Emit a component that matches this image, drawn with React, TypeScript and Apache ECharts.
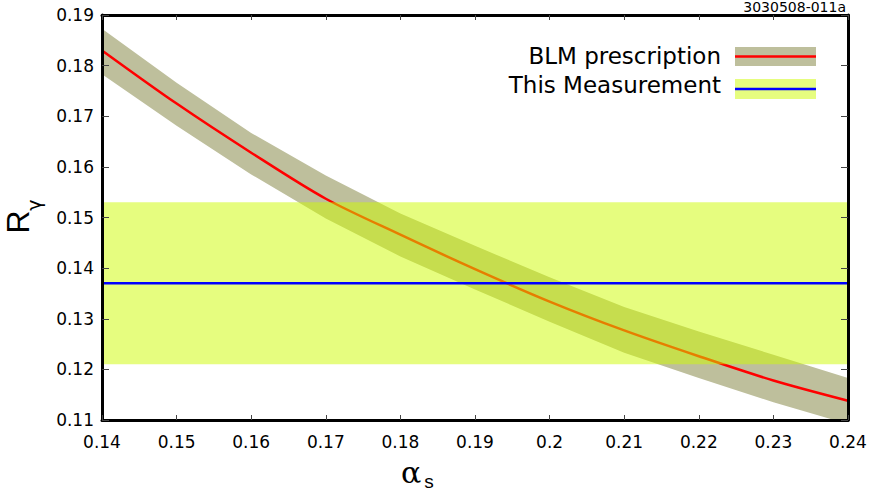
import React, { useEffect, useRef } from "react";
import * as echarts from "echarts";

const alphaS = [0.14, 0.15, 0.16, 0.17, 0.18, 0.19, 0.2, 0.21, 0.22, 0.23, 0.24];
const blmCentral = [0.183, 0.1725, 0.1628, 0.1537, 0.1466, 0.1398, 0.1334, 0.1277, 0.1226, 0.1178, 0.1138];
const blmUpper = [0.1873, 0.1766, 0.1667, 0.1583, 0.1508, 0.1444, 0.1382, 0.1323, 0.1275, 0.1229, 0.1183];
const blmLower = [0.1783, 0.1681, 0.1585, 0.1498, 0.1423, 0.1358, 0.1294, 0.1233, 0.1183, 0.1135, 0.1092];
const measValue = 0.137;
const measLow = 0.121;
const measHigh = 0.153;
const xRange = [0.14, 0.24];
const yRange = [0.11, 0.19];
const legendLabels = ["BLM prescription", "This Measurement"];
const tagText = "3030508-011a";

const BROWN = "#bebf9c";
const YELLOW = "rgba(205,251,0,0.5)";

function bandSeries(name: string, xs: number[], up: number[], lo: number[], fill: string, z: number) {
  return {
    type: "custom",
    name,
    z,
    silent: true,
    data: [[xs[0], lo[0]]],
    encode: { x: 0, y: 1 },
    renderItem: (params: any, api: any) => {
      const pts: number[][] = [];
      for (let i = 0; i < xs.length; i++) pts.push(api.coord([xs[i], up[i]]));
      for (let i = xs.length - 1; i >= 0; i--) pts.push(api.coord([xs[i], lo[i]]));
      const cs = params.coordSys;
      return {
        type: "polygon",
        shape: { points: pts },
        style: { fill, stroke: null },
        clipPath: { type: "rect", shape: { x: cs.x, y: cs.y, width: cs.width, height: cs.height } },
      };
    },
  };
}

export default function App() {
  const ref = useRef<HTMLDivElement>(null);
  useEffect(() => {
    const chart = echarts.init(ref.current!, undefined, { renderer: "svg" });
    const tickFmt = (v: number) => String(+v.toFixed(2));
    const labelStyle = { fontFamily: "DejaVu Sans", fontSize: 17, color: "#000" };
    const axisCommon = {
      type: "value",
      interval: 0.01,
      z: 10,
      axisLine: { show: true, onZero: false, lineStyle: { color: "#000", width: 3 } },
      splitLine: { show: false },
    };
    chart.setOption({
      animation: false,
      backgroundColor: "#fff",
      grid: { left: 102, right: 24, top: 15, bottom: 70 },
      xAxis: [
        {
          ...axisCommon,
          position: "bottom",
          min: xRange[0],
          max: xRange[1],
          axisTick: { inside: true, length: 5, lineStyle: { color: "#444", width: 1 } },
          axisLabel: { ...labelStyle, margin: 13, formatter: tickFmt },
        },
        {
          ...axisCommon,
          position: "top",
          min: xRange[0],
          max: xRange[1],
          axisTick: { inside: true, length: 5, lineStyle: { color: "#444", width: 1 } },
          axisLabel: { show: false },
        },
      ],
      yAxis: [
        {
          ...axisCommon,
          position: "left",
          min: yRange[0],
          max: yRange[1],
          axisTick: { inside: true, length: 7, lineStyle: { color: "#444", width: 1 } },
          axisLabel: { ...labelStyle, margin: 8, formatter: tickFmt },
        },
        {
          ...axisCommon,
          position: "right",
          min: yRange[0],
          max: yRange[1],
          axisTick: { inside: true, length: 7, lineStyle: { color: "#444", width: 1 } },
          axisLabel: { show: false },
        },
      ],
      series: [
        bandSeries("BLM band", alphaS, blmUpper, blmLower, BROWN, 1),
        {
          type: "line",
          name: legendLabels[0],
          z: 3,
          data: alphaS.map((a, i) => [a, blmCentral[i]]),
          smooth: 0.3,
          symbol: "none",
          lineStyle: { color: "#ff0000", width: 2.5 },
        },
        bandSeries(
          "Measurement band",
          [xRange[0], xRange[1]],
          [measHigh, measHigh],
          [measLow, measLow],
          YELLOW,
          4
        ),
        {
          type: "line",
          name: legendLabels[1],
          z: 5,
          data: [[xRange[0], measValue], [xRange[1], measValue]],
          symbol: "none",
          lineStyle: { color: "#0000ff", width: 2.5 },
        },
      ],
      graphic: [
        {
          type: "text",
          x: 846,
          y: 7,
          style: { text: tagText, fontFamily: "DejaVu Sans", fontSize: 14, fill: "#000", align: "right", verticalAlign: "middle" },
        },
        {
          type: "text",
          x: 721,
          y: 56,
          style: { text: legendLabels[0], fontFamily: "DejaVu Sans", fontSize: 23, fill: "#000", align: "right", verticalAlign: "middle" },
        },
        {
          type: "text",
          x: 721,
          y: 85,
          style: { text: legendLabels[1], fontFamily: "DejaVu Sans", fontSize: 23, fill: "#000", align: "right", verticalAlign: "middle" },
        },
        { type: "rect", shape: { x: 735, y: 47, width: 81, height: 19 }, style: { fill: BROWN } },
        { type: "line", shape: { x1: 735, y1: 56.5, x2: 816, y2: 56.5 }, style: { stroke: "#ff0000", lineWidth: 2.5 } },
        { type: "rect", shape: { x: 735, y: 79, width: 81, height: 20 }, style: { fill: YELLOW } },
        { type: "line", shape: { x1: 735, y1: 89, x2: 816, y2: 89 }, style: { stroke: "#0000ff", lineWidth: 2.5 } },
        {
          type: "text",
          x: 18,
          y: 222,
          rotation: Math.PI / 2,
          style: { text: "R", fontFamily: "Liberation Sans", fontSize: 32, fill: "#000", align: "center", verticalAlign: "middle" },
        },
        {
          type: "text",
          x: 34,
          y: 205,
          rotation: Math.PI / 2,
          style: { text: "γ", fontFamily: "DejaVu Sans", fontSize: 19, fill: "#000", align: "center", verticalAlign: "middle" },
        },
        {
          type: "text",
          x: 411,
          y: 472,
          style: { text: "α", fontFamily: "DejaVu Serif", fontSize: 30, fill: "#000", align: "center", verticalAlign: "middle" },
        },
        {
          type: "text",
          x: 429,
          y: 481,
          style: { text: "s", fontFamily: "Liberation Sans", fontSize: 19, fill: "#000", align: "center", verticalAlign: "middle" },
        },
      ],
    });
    return () => chart.dispose();
  }, []);
  return <div ref={ref} style={{ width: 872, height: 490, position: "absolute", left: 0, top: 0 }} />;
}
